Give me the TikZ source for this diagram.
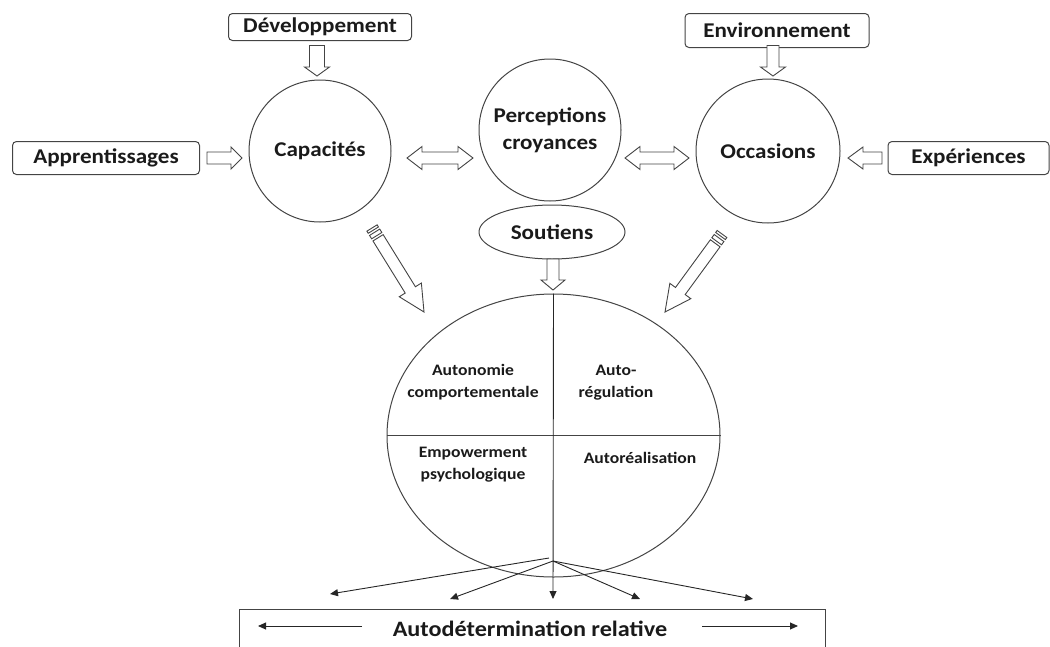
\documentclass[tikz,border=0pt]{standalone}
\usepackage{fontspec}
\setmainfont{Carlito}[FakeStretch=1.1]
\usetikzlibrary{shapes.geometric,calc,arrows.meta}
\definecolor{ln}{HTML}{444444}
\definecolor{tx}{HTML}{1A1A1A}
\tikzset{
  lbl/.style={font=\bfseries\fontsize{21}{27}\selectfont, text=tx, align=center},
  rbox/.style={draw=ln, line width=1pt, rounded corners=4pt, lbl, inner sep=0pt},
  circ/.style={draw=ln, line width=1pt, circle, inner sep=0pt, lbl},
  oval/.style={draw=ln, line width=1pt, ellipse, inner sep=0pt, lbl},
  blk/.style={draw=ln, line width=0.9pt, fill=white, line join=miter},
  small/.style={font=\bfseries\fontsize{16}{22}\selectfont, align=center, text=tx},
  fanline/.style={draw=black!85, line width=0.9pt, -{Triangle[length=8pt,width=7pt]}},
  plainline/.style={draw=ln, line width=1pt},
}
% block arrow: tail, tip, half shaft, half head, head length
\newcommand\blkarrow[5]{%
  \coordinate (ba-h) at ($(#2)!#5!(#1)$);
  \draw[blk] ($(#1)!#3!90:(#2)$) -- ($(ba-h)!#3!90:(#2)$) -- ($(ba-h)!#4!90:(#2)$)
    -- (#2) -- ($(ba-h)!#4!-90:(#2)$) -- ($(ba-h)!#3!-90:(#2)$) -- ($(#1)!#3!-90:(#2)$) -- cycle;
}
% double block arrow: end a, end b, half shaft, half head, head length
\newcommand\dblarrow[5]{%
  \coordinate (da-1) at ($(#1)!#5!(#2)$);
  \coordinate (da-2) at ($(#2)!#5!(#1)$);
  \draw[blk] (#1) -- ($(da-1)!#4!90:(#2)$) -- ($(da-1)!#3!90:(#2)$) -- ($(da-2)!#3!90:(#2)$)
    -- ($(da-2)!#4!90:(#2)$) -- (#2) -- ($(da-2)!#4!-90:(#2)$) -- ($(da-2)!#3!-90:(#2)$)
    -- ($(da-1)!#3!-90:(#2)$) -- ($(da-1)!#4!-90:(#2)$) -- cycle;
}
% striped block arrow: tail, tip, half shaft, half head, head length
\newcommand\strarrow[5]{%
  \coordinate (sa-a) at ($(#1)!2.5pt!(#2)$);
  \coordinate (sa-b) at ($(#1)!5pt!(#2)$);
  \coordinate (sa-c) at ($(#1)!9pt!(#2)$);
  \coordinate (sa-d) at ($(#1)!11.5pt!(#2)$);
  \draw[blk] ($(#1)!#3!90:(#2)$) -- ($(sa-a)!#3!90:(#2)$) -- ($(sa-a)!#3!-90:(#2)$) -- ($(#1)!#3!-90:(#2)$) -- cycle;
  \draw[blk] ($(sa-b)!#3!90:(#2)$) -- ($(sa-c)!#3!90:(#2)$) -- ($(sa-c)!#3!-90:(#2)$) -- ($(sa-b)!#3!-90:(#2)$) -- cycle;
  \blkarrow{sa-d}{#2}{#3}{#4}{#5}
}
\begin{document}
\begin{tikzpicture}[x=1pt,y=-1pt]
\useasboundingbox (0,0) rectangle (1050,646);

% top row boxes
\node[rbox, minimum width=183, minimum height=27] (dev) at (320,27) {Développement};
\node[rbox, minimum width=184, minimum height=34] (env) at (777,30.5) {Environnement};
\node[rbox, minimum width=187, minimum height=33] (appr) at (106,158) {Apprentissages};
\node[rbox, minimum width=161, minimum height=33] (exp) at (968.5,158) {Expériences};

% circles
\node[circ, minimum size=142] (cap) at (320,151) {Capacités};
\node[circ, minimum size=142] (perc) at (550,130) {Perceptions\\croyances};
\node[circ, minimum size=144] (occ) at (768,151) {Occasions};
\node[oval, minimum width=146, minimum height=54] (sout) at (552,232) {Soutiens};

% big ellipse
\node[draw=ln, line width=1pt, ellipse, minimum width=333, minimum height=283, inner sep=0pt] (auto) at (553.5,435.5) {};
\draw[plainline] (auto.west) -- (auto.east);
\node[small] (t1) at (473,382.5) {Autonomie\\comportementale};
\node[small] (t2) at (616,382.5) {Auto-\\régulation};
\node[small] (t3) at (473,465) {Empowerment\\psychologique};
\node[small] (t4) at (640,458) {Autoréalisation};

% bottom box
\node[draw=ln, line width=1pt, minimum width=586, minimum height=60, anchor=north west, inner sep=0pt] (det) at (239,609) {};
\node[lbl, font=\bfseries\fontsize{22}{26}\selectfont] (dett) at (530,629) {Autodétermination relative};
\coordinate (dl1) at (362,626); \coordinate (dl2) at (258,626);
\coordinate (dr1) at (702,626); \coordinate (dr2) at (798,626);
\draw[fanline] (dl1) -- (dl2);
\draw[fanline] (dr1) -- (dr2);

% block arrows
\coordinate (a1) at (207,158); \coordinate (a2) at (242,158);
\blkarrow{a1}{a2}{6pt}{11pt}{11pt}
\coordinate (b1) at (317,45.5); \coordinate (b2) at (317,76);
\blkarrow{b1}{b2}{7.5pt}{12.5pt}{9pt}
\coordinate (c1) at (773,45.5); \coordinate (c2) at (773,76);
\blkarrow{c1}{c2}{6pt}{12.5pt}{9pt}
\coordinate (e1) at (882,158); \coordinate (e2) at (848,158);
\blkarrow{e1}{e2}{6pt}{11pt}{15pt}
\coordinate (s1) at (553,259); \coordinate (s2) at (553,290);
\blkarrow{s1}{s2}{6pt}{12pt}{10pt}
\coordinate (d1) at (407,158); \coordinate (d2) at (473,158);
\dblarrow{d1}{d2}{6pt}{11.5pt}{15pt}
\coordinate (d3) at (625,158); \coordinate (d4) at (689,158);
\dblarrow{d3}{d4}{6pt}{11.5pt}{15pt}
\coordinate (g1) at (372,228); \coordinate (g2) at (424,312);
\strarrow{g1}{g2}{6pt}{13pt}{26pt}
\coordinate (h1) at (722,234); \coordinate (h2) at (665,312);
\strarrow{h1}{h2}{6pt}{13pt}{26pt}

% vertical divider with arrow and fan
\coordinate (fan) at (553,561);
\coordinate (f1) at (330,594);
\coordinate (f2) at (450,599);
\coordinate (f3) at (553,599);
\coordinate (f4) at (640,599);
\coordinate (f5) at (753,599);
\draw[fanline] (auto.north) -- (f3);
\draw[fanline] (549,558) -- (f1);
\draw[fanline] (fan) -- (f2);
\draw[fanline] (fan) -- (f4);
\draw[fanline] (fan) -- (f5);
\end{tikzpicture}
\end{document}
